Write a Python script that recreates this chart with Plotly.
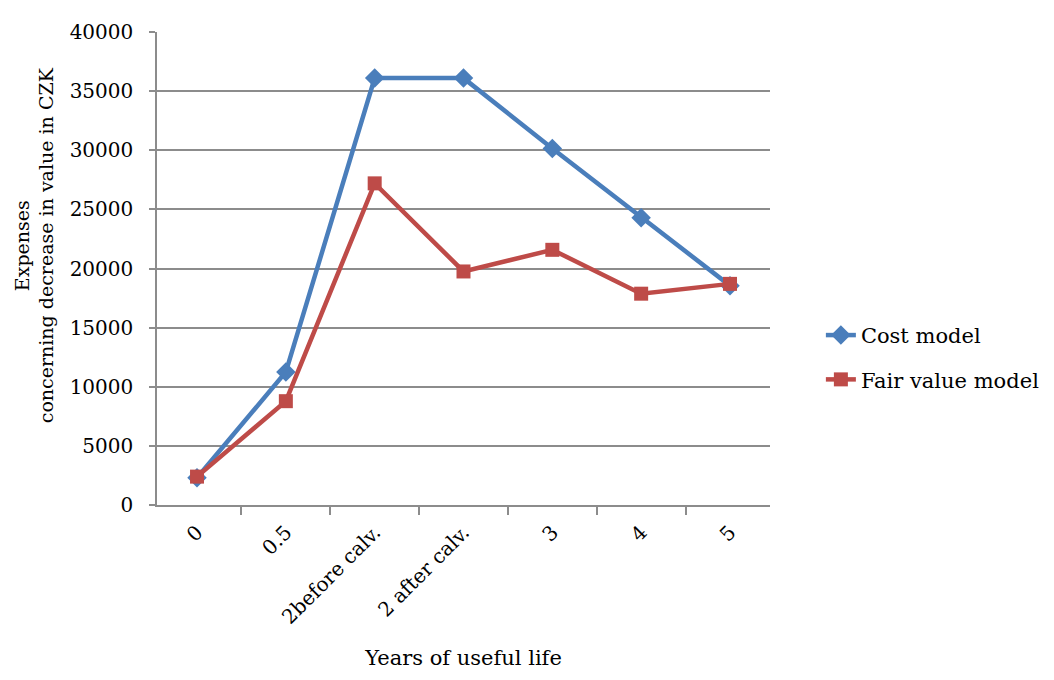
import plotly.graph_objects as go

categories = ["0", "0.5", "2before calv.", "2 after calv.", "3", "4", "5"]
cost_model = [2300, 11250, 36100, 36100, 30150, 24300, 18550]
fair_value_model = [2400, 8780, 27200, 19750, 21580, 17870, 18700]

FONT = "DejaVu Serif"
GRID = "#8c8c8c"

fig = go.Figure()
fig.add_trace(go.Scatter(
    x=categories, y=cost_model, name="Cost model", mode="lines+markers",
    legendgroup="cost",
    line=dict(color="#4A7EBB", width=4.5),
    marker=dict(symbol="diamond", size=15, color="#4A7EBB"),
))
fig.add_trace(go.Scatter(
    x=categories, y=fair_value_model, name="Fair value model", mode="lines+markers",
    legendgroup="fair",
    line=dict(color="#BE4B48", width=4.5),
    marker=dict(symbol="square", size=14, color="#BE4B48"),
))

fig.update_layout(
    width=1054, height=680,
    margin=dict(l=149, r=292, t=20, b=183),
    paper_bgcolor="white", plot_bgcolor="white",
    font=dict(family=FONT, size=20, color="black"),
    showlegend=True,
    legend=dict(x=1.083, y=0.312, xanchor="left", yanchor="middle",
                font=dict(family=FONT, size=21), tracegroupgap=14,
                bgcolor="rgba(0,0,0,0)"),
    xaxis=dict(
        type="category", tickson="boundaries", ticks="outside", ticklen=8,
        tickcolor=GRID, tickwidth=1.5, showline=True, linecolor=GRID, linewidth=1.5,
        showgrid=False, tickangle=-45, tickfont=dict(family=FONT, size=20),
        ticklabelstandoff=6,
        title=dict(text="Years of useful life", font=dict(family=FONT, size=21), standoff=22),
    ),
    yaxis=dict(
        range=[0, 40000], dtick=5000, tickformat="d", ticks="outside", ticklen=6,
        tickcolor=GRID, tickwidth=1.5, showline=True, linecolor=GRID, linewidth=1.5,
        showgrid=True, gridcolor=GRID, gridwidth=1.5, zeroline=False,
        tickfont=dict(family=FONT, size=20), ticklabelstandoff=12,
    ),
    annotations=[dict(
        text="Expenses<br>concerning decrease in value in CZK",
        xref="paper", yref="paper", x=-0.2, y=0.55, xanchor="center", yanchor="middle",
        textangle=-90, showarrow=False, font=dict(family=FONT, size=19),
    )],
)

fig.write_html("out.html")
